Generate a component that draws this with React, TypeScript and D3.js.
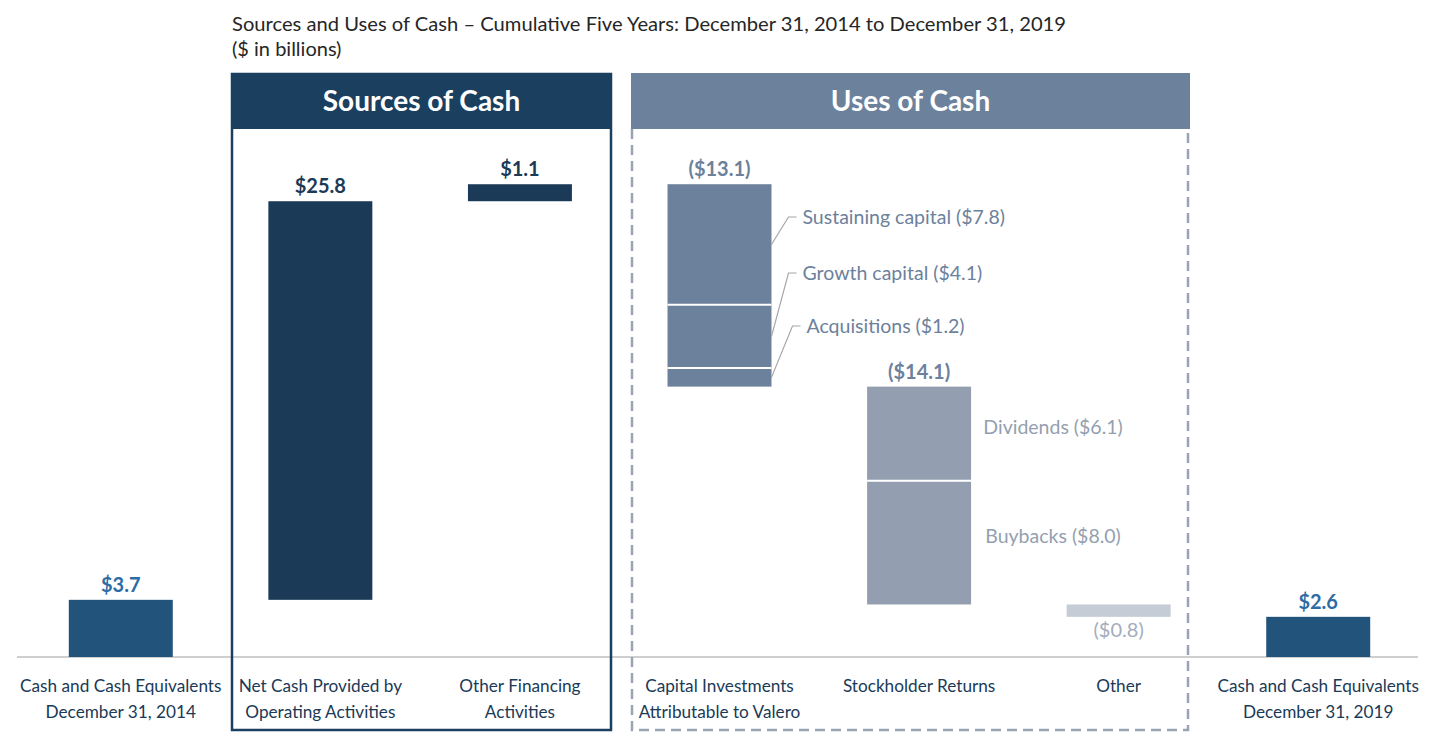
import React from "react";
import * as d3 from "d3";

const categoryLines: string[][] = [
  ["Cash and Cash Equivalents", "December 31, 2014"],
  ["Net Cash Provided by", "Operating Activities"],
  ["Other Financing", "Activities"],
  ["Capital Investments", "Attributable to Valero"],
  ["Stockholder Returns"],
  ["Other"],
  ["Cash and Cash Equivalents", "December 31, 2019"],
];
const values = [3.7, 25.8, 1.1, -13.1, -14.1, -0.8, 2.6];
const kinds = ["total", "source", "source", "use", "use", "use", "total"];
const valueLabels = ["$3.7", "$25.8", "$1.1", "($13.1)", "($14.1)", "($0.8)", "$2.6"];
const capitalNames = ["Sustaining capital", "Growth capital", "Acquisitions"];
const capitalValues = [7.8, 4.1, 1.2];
const returnNames = ["Dividends", "Buybacks"];
const returnValues = [6.1, 8.0];

const W = 1448;
const H = 742;
const FONT = "Lato, 'Open Sans', sans-serif";

const barColors = ["#22537b", "#1a3a57", "#1a3a57", "#6c819b", "#939fb0", "#c5ccd5", "#22537b"];
const labelColors = ["#2e6ca5", "#1a3a57", "#1a3a57", "#6c819b", "#6c819b", "#a3adbb", "#2e6ca5"];

export default function App() {
  let cum = 0;
  const bars = values.map((v, i) => {
    let start: number, end: number;
    if (kinds[i] === "total") {
      start = 0;
      end = v;
      cum = v;
    } else {
      start = cum;
      end = cum + v;
      cum = end;
    }
    return { i, v, start, end, lo: Math.min(start, end), hi: Math.max(start, end) };
  });
  const maxV = d3.max(bars, (b) => b.hi) as number;

  const x = d3
    .scaleBand<number>()
    .domain(d3.range(values.length))
    .range([21, 1418])
    .paddingInner(0.479)
    .paddingOuter(0.2395);
  const y = d3.scaleLinear().domain([0, maxV]).range([657, 657 - 15.45 * maxV]);
  const bw = x.bandwidth();

  const capBar = bars[3];
  let c = capBar.hi;
  const capSegs = capitalValues.map((v, k) => {
    const s = { name: capitalNames[k], v, top: c, bot: c - v };
    c -= v;
    return s;
  });
  const retBar = bars[4];
  let r = retBar.hi;
  const retSegs = returnValues.map((v, k) => {
    const s = { name: returnNames[k], v, top: r, bot: r - v };
    r -= v;
    return s;
  });
  const capLabelY = [217, 273, 326];
  const capElbowX = [17, 17, 21];

  const catColor = "#1a3a57";

  return (
    <svg width={W} height={H} style={{ position: "absolute", left: 0, top: 0 }} fontFamily={FONT}>
      <text x={232} y={31} fontSize={20} fill="#262626" textLength={834} lengthAdjust="spacingAndGlyphs">
        Sources and Uses of Cash – Cumulative Five Years: December 31, 2014 to December 31, 2019
      </text>
      <text x={232} y={56} fontSize={20} fill="#262626">
        ($ in billions)
      </text>

      <line x1={17} x2={1418} y1={y(0)} y2={y(0)} stroke="#bfbfbf" strokeWidth={1.5} />

      <rect x={231} y={73} width={381} height={56} fill="#1b3f5f" />
      <rect x={232} y={74} width={379} height={656} fill="none" stroke="#1b3f5f" strokeWidth={2.5} />
      <text x={421.5} y={111} textAnchor="middle" fontSize={28} fontWeight="bold" fill="#ffffff">
        Sources of Cash
      </text>

      <rect x={631} y={73} width={559} height={56} fill="#6c819b" />
      <path d={`M632,129 V730 H1188 V129`} fill="none" stroke="#98a3b3" strokeWidth={2.5} strokeDasharray="10,6" />
      <text x={910.5} y={111} textAnchor="middle" fontSize={28} fontWeight="bold" fill="#ffffff">
        Uses of Cash
      </text>

      {bars.map((b) => (
        <rect key={b.i} x={x(b.i)} y={y(b.hi)} width={bw} height={y(b.lo) - y(b.hi)} fill={barColors[b.i]} />
      ))}

      {capSegs.slice(1).map((s, k) => (
        <line key={"cd" + k} x1={x(3)} x2={(x(3) as number) + bw} y1={y(s.top)} y2={y(s.top)} stroke="#fff" strokeWidth={2} />
      ))}
      {retSegs.slice(1).map((s, k) => (
        <line key={"rd" + k} x1={x(4)} x2={(x(4) as number) + bw} y1={y(s.top)} y2={y(s.top)} stroke="#fff" strokeWidth={2} />
      ))}

      {capSegs.map((s, k) => {
        const x0 = (x(3) as number) + bw;
        const ym = (y(s.top) + y(s.bot)) / 2;
        const ly = capLabelY[k];
        const ex = x0 + capElbowX[k];
        return (
          <g key={"cl" + k}>
            <polyline points={`${x0},${ym} ${ex},${ly} ${ex + 8},${ly}`} fill="none" stroke="#a6a6a6" strokeWidth={1.2} />
            <text x={ex + 14} y={ly + 7} fontSize={19.5} fill="#6c819b">
              {`${s.name} ($${s.v.toFixed(1)})`}
            </text>
          </g>
        );
      })}

      {retSegs.map((s, k) => {
        const ym = (y(s.top) + y(s.bot)) / 2 - 7;
        return (
          <text key={"rl" + k} x={(x(4) as number) + bw / 2 + 134} y={ym + 7} textAnchor="middle" fontSize={19.5} fill="#939fb0">
            {`${s.name} ($${s.v.toFixed(1)})`}
          </text>
        );
      })}

      {bars.map((b) => {
        const cx = (x(b.i) as number) + bw / 2;
        const below = b.i === 5;
        const yy = below ? y(b.lo) + 20 : y(b.hi) - 8;
        return (
          <text
            key={"vl" + b.i}
            x={cx}
            y={yy}
            textAnchor="middle"
            fontSize={20}
            fontWeight={below ? "normal" : "bold"}
            fill={labelColors[b.i]}
          >
            {valueLabels[b.i]}
          </text>
        );
      })}

      {categoryLines.map((lines, i) => (
        <text key={"cat" + i} x={(x(i) as number) + bw / 2} textAnchor="middle" fontSize={17.2} fill={catColor}>
          {lines.map((l, j) => (
            <tspan key={j} x={(x(i) as number) + bw / 2} y={692 + j * 26}>
              {l}
            </tspan>
          ))}
        </text>
      ))}
    </svg>
  );
}
